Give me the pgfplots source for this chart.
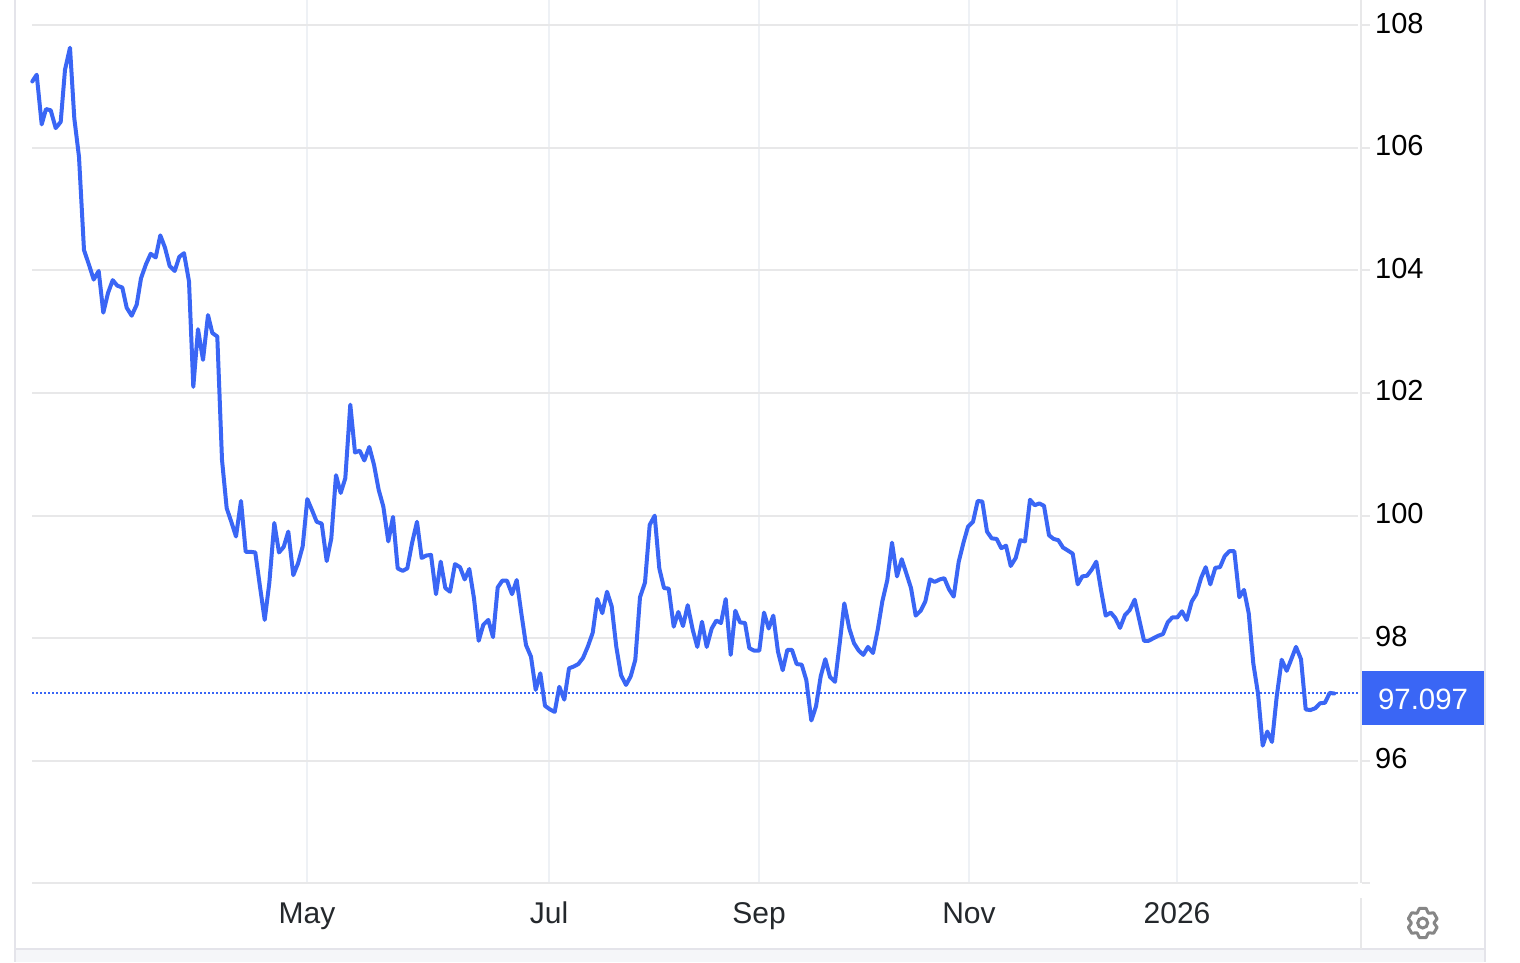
\documentclass[border=0pt]{standalone}
\usepackage{fontspec}
\setmainfont{Liberation Sans}
\usepackage{pgfplots}
\usepackage{pgfplotstable}
\pgfplotsset{compat=1.18}
\definecolor{lineblue}{HTML}{3A66F5}
\definecolor{gridh}{HTML}{E8E8E9}
\definecolor{gridv}{HTML}{EEF1F5}
\definecolor{frameline}{HTML}{E4E4EA}
\definecolor{strip}{HTML}{F5F6F9}
\definecolor{xlab}{HTML}{24282C}
\pgfplotstableread{
x y
32.3 107.08
36.7 107.19
41.7 106.38
46 106.63
50.7 106.61
55.7 106.32
60.7 106.42
65 107.27
70 107.63
74.3 106.48
79 105.85
84 104.33
89 104.09
93.7 103.85
98.7 103.99
103.3 103.31
108 103.63
112.7 103.84
117.3 103.75
122.3 103.72
126.7 103.39
131.7 103.26
136.7 103.44
141 103.87
146 104.10
150.7 104.27
155.7 104.21
160.3 104.57
165 104.37
169.7 104.07
174.7 103.99
179.3 104.22
184 104.28
189 103.82
193.3 102.10
198 103.04
203 102.54
208 103.27
212.3 102.98
217.3 102.92
222 100.91
226.7 100.12
231.3 99.90
236 99.66
241 100.24
245.7 99.41
250.7 99.41
255.3 99.40
260 98.84
264.7 98.30
269.3 98.90
274.3 99.88
279 99.40
283.7 99.49
288.3 99.74
293.3 99.03
298 99.22
302.7 99.50
307.3 100.27
312 100.09
316.7 99.90
321.7 99.87
326.7 99.26
331.3 99.63
336 100.66
340.7 100.37
345.3 100.61
350.3 101.81
355 101.03
359.7 101.06
364.3 100.90
369.3 101.12
374 100.83
378.7 100.42
383.3 100.15
388.3 99.58
393 99.98
397.7 99.14
402.7 99.10
407.3 99.14
412 99.55
417 99.90
421.7 99.31
426.3 99.35
431 99.36
436 98.72
440.7 99.25
445.3 98.82
450 98.76
455 99.21
460 99.16
464.7 98.96
469.3 99.13
474 98.65
478.7 97.96
483.3 98.22
488.3 98.30
493 98.02
497.7 98.83
502.3 98.94
507 98.94
512 98.72
516.7 98.95
521.3 98.41
526 97.89
531 97.70
535.7 97.16
540.3 97.43
545 96.90
550 96.84
554.7 96.80
559.3 97.21
564.3 97.00
569 97.51
573.7 97.54
578.3 97.58
583 97.68
587.7 97.86
592.7 98.09
597.3 98.64
602.3 98.41
607 98.76
611.7 98.52
616.3 97.86
621 97.40
626 97.24
630.7 97.38
635.3 97.65
640 98.67
645 98.91
649.7 99.85
654.7 100.00
659.3 99.14
664 98.82
668.7 98.81
673.7 98.19
678.3 98.43
683 98.20
687.7 98.54
692.7 98.14
697.3 97.86
702 98.27
706.7 97.86
711.7 98.16
716.3 98.29
721 98.25
725.7 98.64
730.7 97.73
735.3 98.45
740 98.26
745 98.25
749.3 97.84
754 97.80
759.3 97.80
764 98.42
768.7 98.16
773.3 98.37
778 97.78
782.7 97.48
787.3 97.81
792 97.81
796.7 97.58
801.7 97.57
806.3 97.32
811.3 96.66
816 96.89
820.7 97.38
825.3 97.66
830 97.37
835 97.29
839.7 97.92
844.3 98.57
849.3 98.16
854 97.92
858.7 97.80
863.3 97.73
868 97.86
873 97.76
877.7 98.14
882.3 98.60
887.3 98.95
892 99.56
897 99.01
901.7 99.29
906.3 99.06
911 98.82
915.7 98.37
920.7 98.45
925.3 98.60
930 98.96
934.7 98.92
939.7 98.96
944.3 98.98
949 98.80
953.7 98.68
958.7 99.25
963.3 99.55
968 99.82
973 99.90
977.7 100.24
982.3 100.23
987 99.74
991.7 99.63
996.7 99.62
1001.3 99.47
1006 99.51
1010.7 99.18
1015.7 99.31
1020.3 99.60
1025 99.58
1030 100.26
1034.7 100.17
1039.3 100.20
1044 100.16
1049 99.68
1053.7 99.62
1058.3 99.60
1063 99.48
1068 99.43
1072.7 99.38
1077.7 98.88
1082.3 99.01
1087 99.02
1091.7 99.12
1096.3 99.25
1101 98.79
1105.7 98.37
1110.7 98.42
1115.3 98.33
1120 98.17
1125 98.38
1129.7 98.46
1134.7 98.63
1139.3 98.30
1144 97.96
1148.7 97.96
1153.3 98.00
1158 98.04
1163 98.07
1167.7 98.26
1172.3 98.34
1177.3 98.34
1182 98.44
1186.7 98.30
1191.7 98.60
1196.3 98.72
1201 98.98
1205.7 99.16
1210.3 98.88
1215.3 99.15
1220 99.16
1224.7 99.34
1229.3 99.42
1234.3 99.42
1239.3 98.67
1244 98.79
1248.7 98.41
1253.3 97.59
1258 97.10
1262.7 96.25
1267.3 96.48
1272 96.31
1276.7 97.05
1281.7 97.65
1286.7 97.47
1291.3 97.66
1296 97.86
1301 97.66
1305.7 96.84
1310.3 96.83
1315.3 96.86
1320 96.94
1325 96.95
1329.7 97.11
1334.3 97.10
}\dxy
\begin{document}
\begin{tikzpicture}[x=1pt,y=1pt]
  \useasboundingbox (0,0) rectangle (1520,-962);
  % page extent and panel frame
  \fill[white] (0,0) rectangle (1520,-962);
  \fill[strip] (15,-949) rectangle (1485,-962);
  \draw[frameline,line width=2pt] (15,0) -- (15,-962);
  \draw[frameline,line width=2pt] (1485,0) -- (1485,-962);
  \draw[frameline,line width=2pt] (15,-949) -- (1485,-949);
  \begin{axis}[
    at={(32pt,-883pt)}, anchor=south west,
    width=1326pt, height=883pt, scale only axis,
    xmin=32, xmax=1358,
    ymin=94.01, ymax=108.408,
    axis line style={draw=none},
    major tick length=0pt,
    xtick={307,549,759,969,1177},
    xticklabels={May,Jul,Sep,Nov,2026},
    ytick={96,98,100,102,104,106,108},
    yticklabel pos=right,
    /pgf/number format/assume math mode=true,
    /pgf/number format/1000 sep={},
    xmajorgrids, ymajorgrids,
    x grid style={gridv,line width=1.8pt},
    y grid style={gridh,line width=1.8pt},
    xticklabel style={font=\fontsize{30}{32}\selectfont,text=xlab,anchor=base,yshift=-40pt,inner sep=0pt},
    yticklabel style={font=\fontsize{29}{31}\selectfont,text=black,anchor=west,inner sep=0pt,xshift=17pt,yshift=2pt},
    clip=false,
  ]
    \addplot[draw=lineblue,line width=1.5pt,dash pattern=on 1.7pt off 2.3pt] coordinates {(32,97.11) (1361,97.11)};
    \addplot[draw=lineblue,line width=4pt,line join=round,line cap=round] table[x=x,y=y] {\dxy};
  \end{axis}
  % right-hand scale and bottom rule
  \draw[gridh,line width=1.8pt] (32,-883) -- (1358,-883);
  \draw[gridh,line width=1.8pt] (1361,0) -- (1361,-883);
  \draw[gridh,line width=1.8pt] (1361,-898) -- (1361,-949);
  \foreach \yy in {25,147.7,270.3,393,515.7,638.3,761,883}
    \draw[gridh,line width=1.8pt] (1362,-\yy) -- (1370,-\yy);
  % last value badge
  \fill[lineblue] (1362,-671) rectangle (1484,-725);
  \node[text=white,font=\fontsize{29.4}{31}\selectfont,inner sep=0pt] at (1423,-699.5) {97.097};
  % settings gear
  \begin{scope}[shift={(1422.7,-923)}]
    \draw[gray!95,line width=3pt,line join=round]
      (62:11.5)
      \foreach \a in {90,150,210,270,330,30} { -- (\a-28:11.5) -- (\a-13:15) -- (\a+13:15) -- (\a+28:11.5) }
      -- cycle;
    \draw[gray!95,line width=3pt] (0,0) circle (5);
  \end{scope}
\end{tikzpicture}
\end{document}
